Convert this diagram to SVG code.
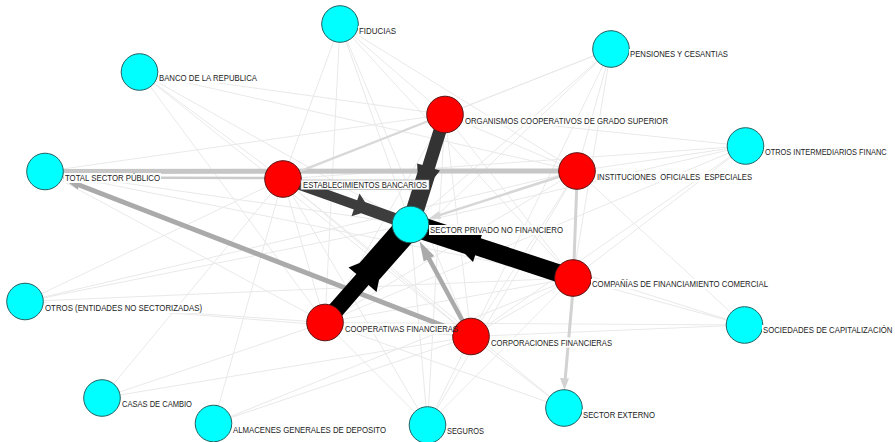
<svg xmlns="http://www.w3.org/2000/svg" width="895" height="442" viewBox="0 0 895 442">
<style>
.thin{stroke:#e9e9e9;stroke-width:1;fill:none}
.lg{stroke:#d3d3d3;fill:none}
.mg{stroke:#aaaaaa;fill:none}
.cy{fill:#00ffff;stroke:#24605f;stroke-width:1}
.rd{fill:#ff0000;stroke:#5a1515;stroke-width:1}
.lbl{font-family:"Liberation Sans",Arial,sans-serif;font-size:9.5px;fill:#222;white-space:pre}
.bg{fill:#ffffff}
</style>
<rect width="895" height="442" fill="#ffffff"/>
<g id="connectors">
<g id="thin-edges">
<line class="thin" x1="340" y1="24" x2="445" y2="114.5"/>
<line class="thin" x1="340" y1="24" x2="283" y2="179"/>
<line class="thin" x1="340" y1="24" x2="410.5" y2="224.5"/>
<line class="thin" x1="340" y1="24" x2="577" y2="171"/>
<line class="thin" x1="340" y1="24" x2="325" y2="322.5"/>
<line class="thin" x1="340" y1="24" x2="471" y2="336.5"/>
<line class="thin" x1="340" y1="24" x2="573" y2="278"/>
<line class="thin" x1="611" y1="49" x2="445" y2="114.5"/>
<line class="thin" x1="611" y1="49" x2="283" y2="179"/>
<line class="thin" x1="611" y1="49" x2="410.5" y2="224.5"/>
<line class="thin" x1="611" y1="49" x2="325" y2="322.5"/>
<line class="thin" x1="611" y1="49" x2="471" y2="336.5"/>
<line class="thin" x1="611" y1="49" x2="577" y2="171"/>
<line class="thin" x1="611" y1="49" x2="573" y2="278"/>
<line class="thin" x1="139.5" y1="72" x2="283" y2="179"/>
<line class="thin" x1="139.5" y1="72" x2="410.5" y2="224.5"/>
<line class="thin" x1="139.5" y1="72" x2="325" y2="322.5"/>
<line class="thin" x1="139.5" y1="72" x2="471" y2="336.5"/>
<line class="thin" x1="139.5" y1="72" x2="577" y2="171"/>
<line class="thin" x1="139.5" y1="72" x2="445" y2="114.5"/>
<line class="thin" x1="745.5" y1="146" x2="577" y2="171"/>
<line class="thin" x1="745.5" y1="146" x2="283" y2="179"/>
<line class="thin" x1="745.5" y1="146" x2="410.5" y2="224.5"/>
<line class="thin" x1="745.5" y1="146" x2="573" y2="278"/>
<line class="thin" x1="745.5" y1="146" x2="471" y2="336.5"/>
<line class="thin" x1="745.5" y1="146" x2="325" y2="322.5"/>
<line class="thin" x1="745.5" y1="146" x2="445" y2="114.5"/>
<line class="thin" x1="45" y1="171.5" x2="445" y2="114.5"/>
<line class="thin" x1="45" y1="171.5" x2="410.5" y2="224.5"/>
<line class="thin" x1="45" y1="171.5" x2="573" y2="278"/>
<line class="thin" x1="45" y1="171.5" x2="325" y2="322.5"/>
<line class="thin" x1="25" y1="301.5" x2="283" y2="179"/>
<line class="thin" x1="25" y1="301.5" x2="410.5" y2="224.5"/>
<line class="thin" x1="25" y1="301.5" x2="325" y2="322.5"/>
<line class="thin" x1="25" y1="301.5" x2="471" y2="336.5"/>
<line class="thin" x1="25" y1="301.5" x2="573" y2="278"/>
<line class="thin" x1="25" y1="301.5" x2="577" y2="171"/>
<line class="thin" x1="102" y1="398" x2="283" y2="179"/>
<line class="thin" x1="102" y1="398" x2="325" y2="322.5"/>
<line class="thin" x1="102" y1="398" x2="471" y2="336.5"/>
<line class="thin" x1="213.5" y1="423.5" x2="283" y2="179"/>
<line class="thin" x1="213.5" y1="423.5" x2="471" y2="336.5"/>
<line class="thin" x1="213.5" y1="423.5" x2="573" y2="278"/>
<line class="thin" x1="427.5" y1="425" x2="325" y2="322.5"/>
<line class="thin" x1="427.5" y1="425" x2="471" y2="336.5"/>
<line class="thin" x1="427.5" y1="425" x2="573" y2="278"/>
<line class="thin" x1="427.5" y1="425" x2="283" y2="179"/>
<line class="thin" x1="427.5" y1="425" x2="410.5" y2="224.5"/>
<line class="thin" x1="427.5" y1="425" x2="577" y2="171"/>
<line class="thin" x1="427.5" y1="425" x2="445" y2="114.5"/>
<line class="thin" x1="564" y1="408" x2="471" y2="336.5"/>
<line class="thin" x1="564" y1="408" x2="325" y2="322.5"/>
<line class="thin" x1="564" y1="408" x2="283" y2="179"/>
<line class="thin" x1="744.5" y1="325" x2="573" y2="278"/>
<line class="thin" x1="744.5" y1="325" x2="471" y2="336.5"/>
<line class="thin" x1="744.5" y1="325" x2="577" y2="171"/>
<line class="thin" x1="744.5" y1="325" x2="325" y2="322.5"/>
<line class="thin" x1="744.5" y1="325" x2="283" y2="179"/>
<line class="thin" x1="283" y1="179" x2="325" y2="322.5"/>
<line class="thin" x1="283" y1="179" x2="471" y2="336.5"/>
<line class="thin" x1="283" y1="179" x2="573" y2="278"/>
<line class="thin" x1="445" y1="114.5" x2="577" y2="171"/>
<line class="thin" x1="445" y1="114.5" x2="325" y2="322.5"/>
<line class="thin" x1="445" y1="114.5" x2="471" y2="336.5"/>
<line class="thin" x1="445" y1="114.5" x2="573" y2="278"/>
<line class="thin" x1="577" y1="171" x2="471" y2="336.5"/>
<line class="thin" x1="577" y1="171" x2="325" y2="322.5"/>
<line class="thin" x1="573" y1="278" x2="471" y2="336.5"/>
<line class="thin" x1="573" y1="278" x2="325" y2="322.5"/>
<line class="thin" x1="325" y1="322.5" x2="471" y2="336.5"/>
</g>
<g id="gray-edges">
<line class="lg" x1="577" y1="171" x2="63" y2="171.5" style="stroke:#c6c6c6;stroke-width:5"/>
<line class="lg" x1="283" y1="178" x2="63" y2="177.5" style="stroke:#cbcbcb;stroke-width:2.5"/>
<line class="lg" x1="445" y1="114.5" x2="290" y2="175" style="stroke:#d8d8d8;stroke-width:2.2"/>
<line class="lg" x1="577" y1="180" x2="574" y2="262" style="stroke:#d2d2d2;stroke-width:3"/>
<line class="lg" x1="573" y1="290" x2="565" y2="381" style="stroke:#d2d2d2;stroke-width:3"/>
<polygon points="564.5,390 560,378 569,378.5" fill="#d2d2d2"/>
<line class="lg" x1="577" y1="171" x2="438" y2="215.6" style="stroke:#d6d6d6;stroke-width:2.5"/>
<polygon points="428.6,218.7 441.2,218.8 438.8,211.2" fill="#d6d6d6"/>
<line class="mg" x1="471" y1="336.5" x2="79" y2="185" style="stroke-width:5"/>
<polygon points="62.7,178.4 81.3,180.2 77.7,189.6" fill="#aaaaaa"/>
<line class="mg" x1="471" y1="336.5" x2="427" y2="255" style="stroke-width:4.5"/>
<polygon points="419.5,241.2 434.3,256 423.7,261.6" fill="#aaaaaa"/>
</g>
<g id="heavy-edges">
<polygon points="451.2,116.4 434.8,168.9 440,170.6 434.8,177.3 419.1,227.2 401.9,221.8 417.6,171.9 417.1,163.4 422.4,165.1 438.8,112.6" fill="#333333"/>
<polygon points="281.3,183.7 353.8,209.6 351.5,216.2 361,213.3 408.5,230.2 412.5,218.9 365,202 359.5,193.6 357.2,200.2 284.7,174.3" fill="#3d3d3d"/>
<polygon points="575.8,269.5 480.8,238.2 483,231.5 471.9,233.2 413.9,214.1 407.1,235 465.1,254.1 473,261.9 475.2,255.3 570.2,286.6" fill="#000000"/>
<polygon points="331.5,328 368.6,285 376.5,292 379,280 420.5,233 401,215.8 359.5,263 348.5,267.5 356.4,274 318.5,317" fill="#000000"/>
</g>
</g>
<g id="node-fiducias"><circle class="cy" cx="340" cy="24" r="18.3"/><rect class="bg" x="358" y="26" width="39" height="10"/><text class="lbl" x="359" y="34" textLength="37" lengthAdjust="spacingAndGlyphs">FIDUCIAS</text></g>
<g id="node-pensiones"><circle class="cy" cx="611" cy="49" r="18.3"/><rect class="bg" x="629" y="49" width="100" height="10"/><text class="lbl" x="630" y="57" textLength="98" lengthAdjust="spacingAndGlyphs">PENSIONES Y CESANTIAS</text></g>
<g id="node-banco"><circle class="cy" cx="139.5" cy="72" r="18.3"/><rect class="bg" x="158" y="73" width="100" height="10"/><text class="lbl" x="159" y="81" textLength="98" lengthAdjust="spacingAndGlyphs">BANCO DE LA REPUBLICA</text></g>
<g id="node-organismos"><circle class="rd" cx="445" cy="114.5" r="18.3"/><rect class="bg" x="464" y="116" width="205" height="10"/><text class="lbl" x="465" y="124" textLength="203" lengthAdjust="spacingAndGlyphs">ORGANISMOS COOPERATIVOS DE GRADO SUPERIOR</text></g>
<g id="node-otros-intermediarios"><circle class="cy" cx="745.5" cy="146" r="18.3"/><rect class="bg" x="764" y="147" width="131" height="10"/><text class="lbl" transform="translate(765,155) scale(0.78,1)" x="0" y="0">OTROS INTERMEDIARIOS FINANC</text></g>
<g id="node-total-sector-publico"><circle class="cy" cx="45" cy="171.5" r="18.3"/><rect class="bg" x="64" y="173" width="97" height="10"/><text class="lbl" x="65" y="181" textLength="95" lengthAdjust="spacingAndGlyphs">TOTAL SECTOR PÚBLICO</text></g>
<g id="node-establecimientos"><circle class="rd" cx="283" cy="179" r="18.3"/><rect x="301" y="180" width="128" height="9.5" fill="#ffffff" stroke="#9a9a9a" stroke-width="0.6"/><text class="lbl" x="303" y="188" textLength="124" lengthAdjust="spacingAndGlyphs">ESTABLECIMIENTOS BANCARIOS</text></g>
<g id="node-instituciones"><circle class="rd" cx="577" cy="171" r="18.3"/><rect class="bg" x="596" y="172" width="157" height="10"/><text class="lbl" x="597" y="180" textLength="155" lengthAdjust="spacingAndGlyphs">INSTITUCIONES  OFICIALES  ESPECIALES</text></g>
<g id="node-sector-privado"><circle class="cy" cx="410.5" cy="224.5" r="18.3"/><rect class="bg" x="429" y="225" width="135" height="10"/><text class="lbl" x="430" y="233" textLength="133" lengthAdjust="spacingAndGlyphs">SECTOR PRIVADO NO FINANCIERO</text></g>
<g id="node-companias"><circle class="rd" cx="573" cy="278" r="18.3"/><rect class="bg" x="591" y="279" width="178" height="10"/><text class="lbl" x="592" y="287" textLength="176" lengthAdjust="spacingAndGlyphs">COMPAÑÍAS DE FINANCIAMIENTO COMERCIAL</text></g>
<g id="node-otros-entidades"><circle class="cy" cx="25" cy="301.5" r="18.3"/><rect class="bg" x="44" y="303" width="159" height="10"/><text class="lbl" x="45" y="311" textLength="157" lengthAdjust="spacingAndGlyphs">OTROS (ENTIDADES NO SECTORIZADAS)</text></g>
<g id="node-corporaciones"><circle class="rd" cx="471" cy="336.5" r="18.3"/><rect class="bg" x="490" y="337.5" width="123" height="10"/><text class="lbl" x="491" y="345.5" textLength="121" lengthAdjust="spacingAndGlyphs">CORPORACIONES FINANCIERAS</text></g>
<g id="node-cooperativas"><circle class="rd" cx="325" cy="322.5" r="18.3"/><rect class="bg" x="344" y="324" width="109" height="10"/><text class="lbl" x="345" y="332" textLength="113" lengthAdjust="spacingAndGlyphs">COOPERATIVAS FINANCIERAS</text></g>
<g id="node-sociedades"><circle class="cy" cx="744.5" cy="325" r="18.3"/><rect class="bg" x="762" y="325" width="127" height="10"/><text class="lbl" transform="translate(763,333) scale(0.82,1)" x="0" y="0">SOCIEDADES DE CAPITALIZACIÓN</text></g>
<g id="node-casas"><circle class="cy" cx="102" cy="398" r="18.3"/><rect class="bg" x="121" y="399" width="72" height="10"/><text class="lbl" x="122" y="407" textLength="70" lengthAdjust="spacingAndGlyphs">CASAS DE CAMBIO</text></g>
<g id="node-almacenes"><circle class="cy" cx="213.5" cy="423.5" r="18.3"/><rect class="bg" x="232" y="424.5" width="155" height="10"/><text class="lbl" x="233" y="432.5" textLength="153" lengthAdjust="spacingAndGlyphs">ALMACENES GENERALES DE DEPOSITO</text></g>
<g id="node-seguros"><circle class="cy" cx="427.5" cy="425" r="18.3"/><rect class="bg" x="446" y="426" width="39" height="10"/><text class="lbl" x="447" y="434" textLength="37" lengthAdjust="spacingAndGlyphs">SEGUROS</text></g>
<g id="node-sector-externo"><circle class="cy" cx="564" cy="408" r="18.3"/><rect class="bg" x="582" y="409.5" width="74" height="10"/><text class="lbl" x="583" y="417.5" textLength="72" lengthAdjust="spacingAndGlyphs">SECTOR EXTERNO</text></g>
</svg>
